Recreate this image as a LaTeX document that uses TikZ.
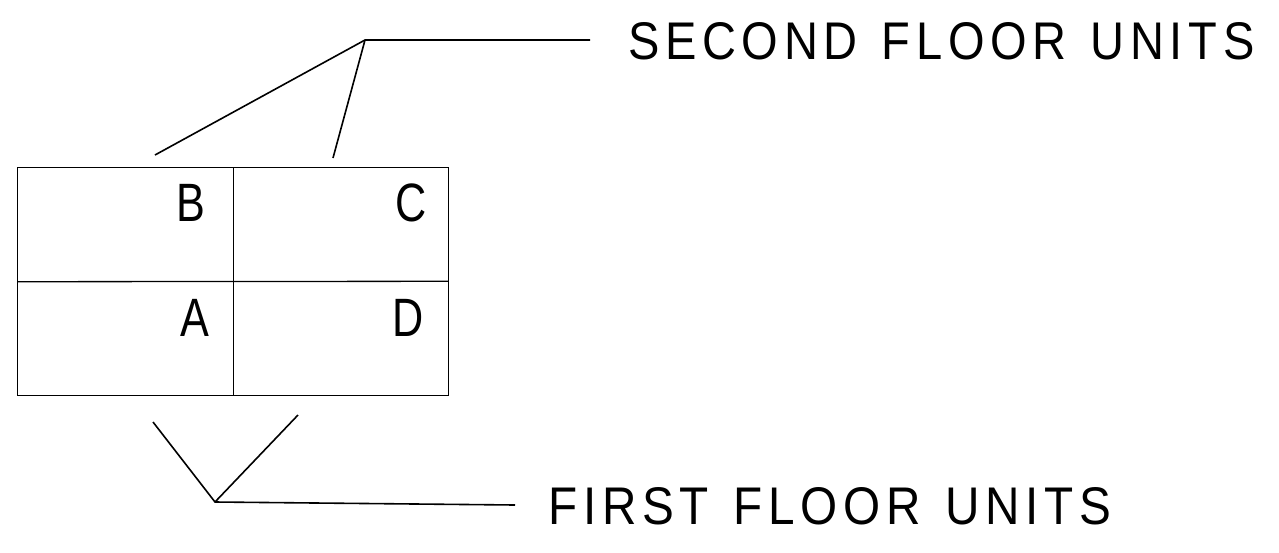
\documentclass[tikz,border=0pt]{standalone}
\usepackage{fontspec}
\setmainfont{Liberation Sans}
\newfontfamily\cadfont[LetterSpace=12,WordSpace=1.3]{Liberation Sans}
\begin{document}
\begin{tikzpicture}[x=1pt,y=-1pt,
  ln/.style={line width=1.6pt,black},
  grid/.style={line width=1.3pt,black},
  cell/.style={draw=none,minimum width=215pt,minimum height=114pt,inner sep=0pt},
  letter/.style={inner sep=0pt,anchor=east,font=\fontsize{54}{54}\selectfont,xscale=0.8},
  label/.style={inner sep=0pt,anchor=west}]
\useasboundingbox (0,0) rectangle (1279,552);
% cells
\node[cell] (b) at (125.5,224.5) {};
\node[cell] (c) at (340.5,224.5) {};
\node[cell] (a) at (125.5,338.5) {};
\node[cell] (d) at (340.5,338.5) {};
\draw[grid] (b.north west) rectangle (d.south east);
\draw[grid] (b.north east) -- (a.south east);
\draw[grid] (b.south west) -- (d.north east);
% letters
\node[letter] (lb) at (205,203) {B};
\node[letter] (lc) at (427,203) {C};
\node[letter] (la) at (209,318) {A};
\node[letter] (ld) at (424,318) {D};
% labels
\node[label] (second) at (628,41) {\resizebox{626pt}{37pt}{\cadfont SECOND FLOOR UNITS}};
\node[label] (first) at (548,506) {\resizebox{563pt}{37pt}{\cadfont FIRST FLOOR UNITS}};
% leaders
\coordinate (t1) at (155,155);
\coordinate (t2) at (333,158);
\coordinate (tk) at (365,40);
\coordinate (te) at (590,40);
\coordinate (b1) at (153,422);
\coordinate (b2) at (298,415);
\coordinate (bk) at (215,502);
\coordinate (be) at (515,505);
\draw[ln] (t1) -- (tk) -- (te);
\draw[ln] (t2) -- (tk);
\draw[ln] (b1) -- (bk) -- (be);
\draw[ln] (b2) -- (bk);
\end{tikzpicture}
\end{document}
